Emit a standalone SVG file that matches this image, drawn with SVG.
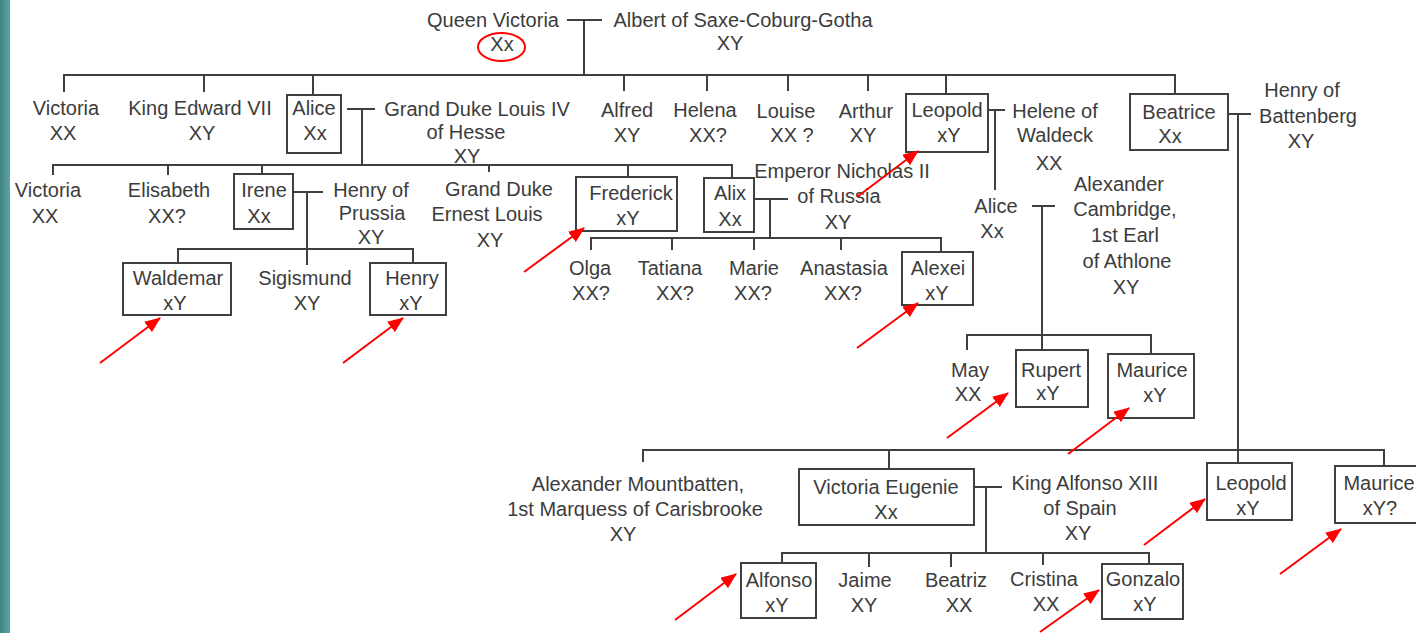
<svg xmlns="http://www.w3.org/2000/svg" width="1416" height="633" viewBox="0 0 1416 633">
<defs>
<linearGradient id="teal" x1="0" y1="0" x2="1" y2="0">
<stop offset="0" stop-color="#3f8584"/>
<stop offset="1" stop-color="#5fa3a2"/>
</linearGradient>
<marker id="ah" viewBox="0 0 16 13" refX="15" refY="6.5" markerWidth="16" markerHeight="13" markerUnits="userSpaceOnUse" orient="auto">
<path d="M0,0 L16,6.5 L0,13 z" fill="#ff0000"/>
</marker>
<style>
text{font-family:"Liberation Sans",Arial,sans-serif;font-size:20px;fill:#3c3c3c;text-anchor:middle}
.c line{stroke:#404040;stroke-width:2;fill:none}
rect.b{fill:#fff;stroke:#404040;stroke-width:2}
.a line{stroke:#ff0000;stroke-width:2;marker-end:url(#ah)}
</style>
</defs>
<rect x="0" y="0" width="1416" height="633" fill="#fff"/>
<rect x="0" y="0" width="10" height="633" fill="url(#teal)"/>

<g class="c" id="connectors">
<line x1="567" y1="20" x2="602" y2="20"/>
<line x1="584" y1="20" x2="584" y2="75"/>
<line x1="63" y1="75" x2="1176" y2="75"/>
<line x1="64" y1="75" x2="64" y2="92"/>
<line x1="204" y1="75" x2="204" y2="92"/>
<line x1="313" y1="75" x2="313" y2="95"/>
<line x1="624" y1="75" x2="624" y2="91"/>
<line x1="707" y1="75" x2="707" y2="91"/>
<line x1="788" y1="75" x2="788" y2="91"/>
<line x1="868" y1="75" x2="868" y2="91"/>
<line x1="946" y1="75" x2="946" y2="94"/>
<line x1="1175" y1="75" x2="1175" y2="94"/>
<line x1="347" y1="109" x2="375" y2="109"/>
<line x1="362" y1="109" x2="362" y2="165"/>
<line x1="52" y1="165" x2="733" y2="165"/>
<line x1="53" y1="165" x2="53" y2="175"/>
<line x1="168" y1="165" x2="168" y2="175"/>
<line x1="262" y1="165" x2="262" y2="174"/>
<line x1="489" y1="165" x2="489" y2="172"/>
<line x1="628" y1="165" x2="628" y2="177"/>
<line x1="732" y1="165" x2="732" y2="178"/>
<line x1="988" y1="110" x2="1005" y2="110"/>
<line x1="995" y1="110" x2="995" y2="190"/>
<line x1="1228" y1="114" x2="1251" y2="114"/>
<line x1="1238" y1="114" x2="1238" y2="463"/>
<line x1="293" y1="192" x2="323" y2="192"/>
<line x1="307" y1="192" x2="307" y2="265"/>
<line x1="177" y1="249" x2="414" y2="249"/>
<line x1="178" y1="249" x2="178" y2="263"/>
<line x1="413" y1="249" x2="413" y2="263"/>
<line x1="754" y1="199" x2="788" y2="199"/>
<line x1="770" y1="199" x2="770" y2="238"/>
<line x1="590" y1="238" x2="942" y2="238"/>
<line x1="591" y1="238" x2="591" y2="250"/>
<line x1="672" y1="238" x2="672" y2="250"/>
<line x1="754" y1="238" x2="754" y2="250"/>
<line x1="841" y1="238" x2="841" y2="250"/>
<line x1="941" y1="238" x2="941" y2="252"/>
<line x1="1032" y1="206" x2="1055" y2="206"/>
<line x1="1042" y1="206" x2="1042" y2="350"/>
<line x1="966" y1="335" x2="1152" y2="335"/>
<line x1="967" y1="335" x2="967" y2="350"/>
<line x1="1151" y1="335" x2="1151" y2="354"/>
<line x1="642" y1="450" x2="1385" y2="450"/>
<line x1="643" y1="450" x2="643" y2="462"/>
<line x1="889" y1="450" x2="889" y2="469"/>
<line x1="1384" y1="450" x2="1384" y2="466"/>
<line x1="974" y1="487" x2="1002" y2="487"/>
<line x1="986" y1="487" x2="986" y2="553"/>
<line x1="781" y1="553" x2="1150" y2="553"/>
<line x1="782" y1="553" x2="782" y2="563"/>
<line x1="869" y1="553" x2="869" y2="567"/>
<line x1="951" y1="553" x2="951" y2="567"/>
<line x1="1043" y1="553" x2="1043" y2="565"/>
<line x1="1149" y1="553" x2="1149" y2="564"/>
</g>

<g id="queen-victoria"><text x="493" y="27">Queen Victoria</text><text x="502" y="51">Xx</text>
<ellipse cx="501.5" cy="47" rx="23.5" ry="14" fill="none" stroke="#ff0000" stroke-width="2"/></g>
<g id="albert"><text x="743" y="27">Albert of Saxe-Coburg-Gotha</text><text x="730" y="50">XY</text></g>

<g id="victoria-1"><text x="66" y="115">Victoria</text><text x="63" y="140">XX</text></g>
<g id="edward-vii"><text x="200" y="115">King Edward VII</text><text x="202" y="140">XY</text></g>
<g id="alice-1"><rect class="b" x="287" y="95" width="54" height="58"/><text x="314" y="115">Alice</text><text x="315" y="140">Xx</text></g>
<g id="louis-iv"><text x="477" y="116">Grand Duke Louis IV</text><text x="466" y="139">of Hesse</text><text x="467" y="163">XY</text></g>
<g id="alfred"><text x="627" y="117">Alfred</text><text x="627" y="142">XY</text></g>
<g id="helena"><text x="705" y="117">Helena</text><text x="708" y="142">XX?</text></g>
<g id="louise"><text x="786" y="118">Louise</text><text x="792" y="142">XX ?</text></g>
<g id="arthur"><text x="866" y="118">Arthur</text><text x="863" y="142">XY</text></g>
<g id="leopold-1"><rect class="b" x="906" y="94" width="82" height="58"/><text x="947" y="117">Leopold</text><text x="949" y="142">xY</text></g>
<g id="helene"><text x="1055" y="118">Helene of</text><text x="1055" y="142">Waldeck</text><text x="1049" y="170">XX</text></g>
<g id="beatrice"><rect class="b" x="1130" y="94" width="98" height="56"/><text x="1179" y="119">Beatrice</text><text x="1170" y="143">Xx</text></g>
<g id="henry-battenberg"><text x="1302" y="97">Henry of</text><text x="1308" y="123">Battenberg</text><text x="1301" y="148">XY</text></g>

<g id="victoria-2"><text x="48" y="197">Victoria</text><text x="45" y="223">XX</text></g>
<g id="elisabeth"><text x="169" y="197">Elisabeth</text><text x="167" y="223">XX?</text></g>
<g id="irene"><rect class="b" x="234" y="174" width="59" height="55"/><text x="264" y="197">Irene</text><text x="259" y="223">Xx</text></g>
<g id="henry-prussia"><text x="371" y="197">Henry of</text><text x="372" y="220">Prussia</text><text x="371" y="244">XY</text></g>
<g id="ernest-louis"><text x="499" y="196">Grand Duke</text><text x="487" y="221">Ernest Louis</text><text x="490" y="247">XY</text></g>
<g id="frederick"><rect class="b" x="576" y="177" width="101" height="54"/><text x="631" y="200">Frederick</text><text x="628" y="225">xY</text></g>
<g id="alix"><rect class="b" x="704" y="178" width="50" height="54"/><text x="730" y="200">Alix</text><text x="730" y="226">Xx</text></g>
<g id="nicholas-ii"><text x="842" y="178">Emperor Nicholas II</text><text x="839" y="203">of Russia</text><text x="838" y="229">XY</text></g>
<g id="alice-2"><text x="996" y="213">Alice</text><text x="992" y="238">Xx</text></g>
<g id="alexander-cambridge"><text x="1119" y="191">Alexander</text><text x="1125" y="216">Cambridge,</text><text x="1125" y="242">1st Earl</text><text x="1127" y="268">of Athlone</text><text x="1126" y="294">XY</text></g>

<g id="waldemar"><rect class="b" x="123" y="263" width="108" height="52"/><text x="178" y="285">Waldemar</text><text x="175" y="310">xY</text></g>
<g id="sigismund"><text x="305" y="285">Sigismund</text><text x="307" y="310">XY</text></g>
<g id="henry"><rect class="b" x="370" y="263" width="76" height="52"/><text x="412" y="285">Henry</text><text x="411" y="310">xY</text></g>
<g id="olga"><text x="590" y="275">Olga</text><text x="591" y="300">XX?</text></g>
<g id="tatiana"><text x="670" y="275">Tatiana</text><text x="675" y="300">XX?</text></g>
<g id="marie"><text x="754" y="275">Marie</text><text x="753" y="300">XX?</text></g>
<g id="anastasia"><text x="844" y="275">Anastasia</text><text x="843" y="300">XX?</text></g>
<g id="alexei"><rect class="b" x="902" y="252" width="71" height="53"/><text x="938" y="275">Alexei</text><text x="937" y="300">xY</text></g>

<g id="may"><text x="970" y="377">May</text><text x="968" y="401">XX</text></g>
<g id="rupert"><rect class="b" x="1016" y="350" width="72" height="57"/><text x="1051" y="377">Rupert</text><text x="1048" y="400">xY</text></g>
<g id="maurice-1"><rect class="b" x="1108" y="354" width="86" height="64"/><text x="1152" y="377">Maurice</text><text x="1155" y="402">xY</text></g>

<g id="alexander-mountbatten"><text x="638" y="491">Alexander Mountbatten,</text><text x="635" y="516">1st Marquess of Carisbrooke</text><text x="623" y="541">XY</text></g>
<g id="victoria-eugenie"><rect class="b" x="799" y="469" width="175" height="56"/><text x="886" y="494">Victoria Eugenie</text><text x="886" y="519">Xx</text></g>
<g id="alfonso-xiii"><text x="1085" y="490">King Alfonso XIII</text><text x="1080" y="515">of Spain</text><text x="1078" y="540">XY</text></g>
<g id="leopold-2"><rect class="b" x="1207" y="463" width="85" height="57"/><text x="1251" y="490">Leopold</text><text x="1248" y="515">xY</text></g>
<g id="maurice-2"><rect class="b" x="1335" y="466" width="90" height="57"/><text x="1379" y="490">Maurice</text><text x="1380" y="515">xY?</text></g>

<g id="alfonso"><rect class="b" x="741" y="563" width="75" height="55"/><text x="779" y="587">Alfonso</text><text x="777" y="612">xY</text></g>
<g id="jaime"><text x="865" y="587">Jaime</text><text x="864" y="612">XY</text></g>
<g id="beatriz"><text x="956" y="587">Beatriz</text><text x="959" y="612">XX</text></g>
<g id="cristina"><text x="1044" y="586">Cristina</text><text x="1046" y="611">XX</text></g>
<g id="gonzalo"><rect class="b" x="1102" y="564" width="81" height="55"/><text x="1143" y="586">Gonzalo</text><text x="1145" y="611">xY</text></g>

<g class="a" id="arrows">
<line x1="100" y1="363" x2="160" y2="318"/>
<line x1="343" y1="363" x2="403" y2="318"/>
<line x1="524" y1="272" x2="584" y2="228"/>
<line x1="857" y1="197" x2="918" y2="151"/>
<line x1="857" y1="348" x2="918" y2="303"/>
<line x1="947" y1="438" x2="1008" y2="393"/>
<line x1="1068" y1="454" x2="1129" y2="408"/>
<line x1="1144" y1="545" x2="1205" y2="499"/>
<line x1="1280" y1="574" x2="1341" y2="529"/>
<line x1="675" y1="620" x2="736" y2="574"/>
<line x1="1040" y1="632" x2="1099" y2="590"/>
</g>
</svg>
